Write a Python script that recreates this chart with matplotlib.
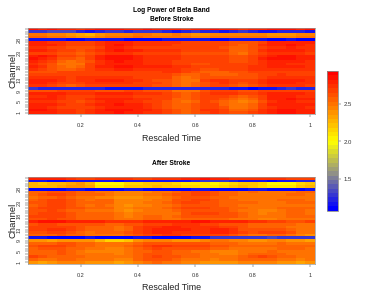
#!/usr/bin/env python3
import numpy as np
import matplotlib
matplotlib.use('Agg')
import matplotlib.pyplot as plt
from matplotlib.colors import LinearSegmentedColormap

plt.rcParams['font.family'] = ['Liberation Sans', 'DejaVu Sans']

W, H = 385, 298

# values x 100, rows run from channel 32 (top) down to channel 1
before_rows = [
    [283,282,283,280,278,276,280,283,284,283,282,280,283,282,280,278,276,280,282,283,280,278,276,278,282,284,284,283,282,283],
    [130,130,132,134,132,122,118,122,126,126,124,126,130,128,124,118,122,126,124,122,118,122,126,124,118,116,122,124,122,118],
    [250,248,246,244,238,232,230,236,242,244,246,250,248,244,246,248,244,240,240,242,244,246,244,242,246,240,238,240,244,246],
    [256,254,252,250,244,238,236,242,248,250,252,254,252,250,250,252,248,244,246,248,250,252,248,248,252,246,244,246,250,252],
    [116,116,114,114,112,112,114,116,116,114,112,110,110,112,114,116,116,114,114,112,112,114,116,116,114,112,112,114,112,110],
    [278,278,276,272,270,268,270,276,280,280,278,274,272,274,274,272,270,268,268,266,268,264,260,262,270,278,280,282,280,278],
    [282,280,278,274,268,266,270,274,282,283,280,276,274,276,274,270,270,270,268,268,266,260,258,262,272,278,282,283,280,276],
    [274,274,270,266,264,260,264,270,278,280,276,270,268,270,270,268,268,266,266,266,262,256,254,260,270,274,276,278,276,272],
    [280,282,274,270,266,262,268,276,282,283,282,278,274,274,272,272,270,268,266,270,266,258,256,262,274,280,282,282,280,276],
    [270,270,266,264,260,256,262,270,274,276,272,270,266,268,268,266,264,262,264,264,260,254,252,260,270,272,274,276,274,270],
    [282,283,278,270,266,264,270,278,283,284,283,280,276,276,274,272,270,270,268,270,268,262,260,266,276,282,283,283,282,278],
    [283,282,274,264,260,258,268,278,284,285,284,280,276,274,274,272,270,268,268,270,268,262,262,268,278,283,284,283,282,280],
    [278,274,266,254,252,254,264,274,282,283,282,278,274,274,272,270,268,266,266,268,266,264,264,270,276,280,282,280,278,276],
    [276,270,260,252,250,252,266,276,280,282,280,278,276,276,274,268,266,264,264,266,266,266,266,270,274,278,278,276,276,274],
    [280,274,260,254,252,256,268,278,282,283,283,282,280,280,278,276,272,270,270,270,270,270,270,272,276,280,280,278,278,276],
    [274,268,260,256,256,260,270,274,276,278,278,276,274,276,276,274,268,266,262,264,268,270,270,272,274,276,276,274,274,274],
    [264,264,264,266,270,270,266,266,266,268,270,270,268,270,272,274,266,260,256,254,258,262,264,266,268,270,270,268,268,270],
    [266,266,266,268,270,268,268,270,270,270,268,268,266,266,270,264,256,258,260,256,254,256,260,264,268,270,272,270,270,268],
    [274,274,274,272,270,272,274,276,276,274,272,270,268,266,266,258,250,254,262,264,262,260,260,264,270,274,276,274,274,272],
    [280,280,278,274,270,272,276,280,280,278,274,272,268,264,264,256,248,252,266,274,274,270,266,270,276,280,282,280,278,276],
    [278,278,274,268,266,268,274,276,276,276,274,270,268,266,264,254,250,254,264,270,274,270,264,266,274,278,278,278,276,274],
    [274,272,266,260,258,260,266,270,270,270,268,268,266,264,262,256,252,258,264,268,268,262,256,260,268,272,274,274,272,270],
    [128,124,125,122,120,122,124,120,116,114,116,118,120,122,120,122,124,124,122,122,120,118,114,112,114,116,122,128,125,120],
    [260,260,264,266,268,270,268,264,260,262,266,268,264,262,260,250,248,252,262,270,270,266,262,260,266,270,268,266,268,266],
    [278,280,282,280,276,274,276,280,282,282,280,276,274,274,268,262,256,260,268,274,276,272,266,268,274,278,280,280,278,276],
    [274,276,278,274,270,268,270,274,276,276,274,270,268,268,266,260,256,262,268,270,268,260,256,260,270,278,282,280,276,274],
    [280,280,280,276,270,268,274,280,282,282,278,274,272,270,266,258,254,260,270,270,264,254,250,256,268,278,282,283,280,278],
    [276,276,274,270,266,264,270,276,280,280,276,272,268,266,262,254,252,258,266,264,256,248,246,252,264,274,278,278,276,274],
    [282,282,278,272,268,268,272,278,282,283,282,278,274,270,264,256,254,260,268,266,256,248,248,254,268,278,282,282,280,278],
    [280,278,274,270,266,266,270,276,280,282,282,278,274,270,264,256,254,260,270,268,260,252,250,258,270,276,280,280,278,276],
    [283,283,280,276,272,270,274,280,283,284,283,282,278,274,268,260,258,264,272,272,266,258,256,262,272,280,284,284,282,280],
    [282,282,280,276,272,270,274,278,282,283,282,280,276,272,268,260,258,264,270,272,268,262,262,266,274,280,283,283,282,280],
]

after_rows = [
    [280,282,282,278,274,270,270,272,274,274,272,270,270,272,274,276,278,282,283,282,278,274,272,272,274,274,272,270,268,270],
    [116,114,113,113,114,116,118,116,114,113,114,116,118,118,116,114,116,120,126,130,128,122,118,116,114,113,114,116,120,122],
    [226,224,226,230,234,236,228,206,203,205,216,218,220,222,220,218,212,210,208,206,210,218,222,220,214,206,204,206,216,224],
    [230,228,230,234,238,240,232,212,208,210,220,222,224,226,224,222,216,214,212,210,214,222,226,224,218,210,208,210,220,228],
    [112,110,110,112,114,114,112,110,110,112,114,114,112,110,110,110,112,114,114,112,110,110,112,114,114,112,110,110,112,114],
    [256,258,262,264,260,256,254,252,250,244,242,244,246,248,252,258,262,266,266,262,256,254,252,254,252,250,250,252,254,254],
    [258,260,266,268,262,258,254,254,252,246,244,246,248,250,254,262,264,268,268,264,258,256,252,252,250,250,252,254,254,252],
    [250,254,258,260,256,252,248,246,246,240,238,240,244,246,250,258,260,262,262,258,254,250,248,248,248,248,250,252,252,250],
    [256,260,266,266,260,256,252,254,254,244,242,244,246,248,252,260,264,266,266,262,256,254,252,250,250,252,254,254,254,252],
    [262,264,268,268,262,256,254,256,254,246,244,246,248,252,256,262,266,266,264,262,258,256,256,254,252,250,252,254,256,254],
    [258,262,266,266,260,256,252,254,252,244,240,244,246,250,252,258,262,264,262,260,256,254,252,250,248,248,250,252,252,252],
    [264,266,270,268,262,260,256,256,254,244,242,248,252,252,254,260,266,268,266,264,260,256,254,250,250,252,254,256,256,254],
    [260,262,266,264,258,254,252,252,252,242,238,244,248,248,248,254,262,264,262,262,260,256,252,248,244,246,252,254,254,252],
    [262,266,270,266,262,258,256,256,254,248,246,250,250,248,248,252,260,266,266,266,264,260,254,250,246,248,252,254,254,252],
    [266,268,270,268,262,258,258,258,256,248,246,250,254,254,252,254,260,264,264,262,262,260,256,252,250,250,252,256,258,256],
    [262,264,266,264,260,256,256,256,254,250,250,252,254,254,250,252,256,258,258,256,254,252,252,248,246,246,248,250,252,252],
    [282,283,284,283,282,280,278,278,276,274,274,276,280,282,280,280,282,283,283,282,282,280,278,276,272,270,268,264,264,266],
    [264,266,266,264,262,260,260,260,258,258,260,264,268,270,270,272,272,272,270,268,264,262,260,258,256,256,256,254,252,252],
    [268,270,270,270,266,262,258,258,258,252,258,268,272,276,278,278,276,274,272,272,270,266,262,258,256,256,254,252,250,248],
    [266,270,272,272,268,262,258,256,254,250,258,268,274,278,280,280,278,276,276,278,278,272,262,260,260,262,264,258,250,248],
    [262,264,266,266,262,256,252,254,256,258,264,270,274,278,278,276,274,272,274,278,280,276,266,264,266,268,266,260,252,250],
    [256,256,258,260,258,254,252,250,250,252,256,264,268,270,272,272,270,268,270,270,268,262,254,252,252,254,254,252,246,240],
    [116,114,112,112,112,112,114,112,112,112,112,114,114,112,112,112,112,114,118,126,130,130,128,126,130,132,130,128,126,126],
    [238,236,234,236,240,240,236,226,218,216,222,236,244,246,244,240,238,240,244,248,250,246,242,240,240,242,244,240,236,234],
    [258,258,258,260,260,258,254,250,248,248,252,258,262,264,264,262,262,262,260,258,256,254,250,250,250,252,254,252,250,250],
    [264,266,268,268,264,258,254,252,250,250,254,264,270,272,272,270,270,268,266,264,262,258,256,254,254,256,258,258,256,256],
    [258,260,264,264,258,254,250,248,246,244,250,258,264,266,264,262,262,262,260,256,254,250,248,248,250,252,254,254,254,252],
    [254,254,258,260,258,252,246,244,244,242,248,254,258,262,260,256,254,252,250,246,242,244,248,250,252,254,252,250,250,248],
    [256,254,256,260,258,250,248,248,248,244,248,256,262,264,262,258,256,254,252,248,244,246,252,254,258,258,254,252,252,252],
    [266,260,258,258,258,254,252,252,252,248,250,258,264,266,264,260,258,254,252,248,248,252,256,262,266,264,258,254,252,252],
    [258,252,252,256,256,252,250,250,248,244,246,254,260,262,260,256,252,250,248,246,248,252,254,258,258,256,252,248,246,248],
    [236,232,240,244,246,244,240,240,238,234,236,246,252,254,252,250,246,242,238,236,236,240,244,246,246,244,240,236,234,236],
]

channels = np.arange(1, 33)
time = np.arange(1, 31) / 30
y_labelled = [1, 5, 9, 13, 18, 23, 28]
x_ticks = [0.2, 0.4, 0.6, 0.8, 1]
x_labels = ['0.2', '0.4', '0.6', '0.8', '1']
bar_ticks = [1.5, 2.0, 2.5]
vmin, vmax = 1.08, 2.94

before = np.array(before_rows)[::-1] / 100
after = np.array(after_rows)[::-1] / 100

cmap = LinearSegmentedColormap.from_list(
    'blue_gray_yellow_red',
    [(0.0, '#0000ff'), (0.25, '#8c8c8c'), (0.495, '#ffff00'), (1.0, '#ff0000')],
    N=32)


def px_axes(x0, y0, x1, y1):
    # pixel box, y measured from the top of the image
    return fig.add_axes([x0 / W, 1 - y1 / H, (x1 - x0) / W, (y1 - y0) / H])


def heat_panel(ax, data):
    mesh = ax.pcolormesh(time, channels, data, shading='nearest', cmap=cmap,
                         vmin=vmin, vmax=vmax, antialiased=True, linewidth=0)
    ax.set_xlim(1 / 60, 1 + 1 / 60)
    ax.set_ylim(0.5, 32.5)
    ax.set_xticks(x_ticks, x_labels, fontsize=4, color='#333333')
    ax.set_yticks(channels, [str(c) if c in y_labelled else '' for c in channels],
                  fontsize=4, rotation=90, va='center', color='#333333')
    ax.tick_params(length=2.2, width=0.35, pad=2.5, color='#444444')
    ax.tick_params(axis='x', pad=4.5)
    for s in ax.spines.values():
        s.set_linewidth(0.5)
        s.set_color('#999999')
    ax.set_xlabel('Rescaled Time', fontsize=6.4, color='#222222', labelpad=3.8)
    ax.set_ylabel('Channel', fontsize=6.8, color='#222222', labelpad=-0.5)
    return mesh


fig = plt.figure(figsize=(W / 100, H / 100), dpi=100)

ax_top = px_axes(28, 27.5, 315, 114)
mesh = heat_panel(ax_top, before)
ax_top.set_title('Log Power of Beta Band\nBefore Stroke', fontsize=4.8, fontweight='bold',
                 linespacing=1.3, pad=5)

ax_bot = px_axes(28, 177, 315, 263.5)
heat_panel(ax_bot, after)
ax_bot.set_title('After Stroke', fontsize=4.8, fontweight='bold', pad=8.5)

cax = px_axes(327, 71, 338, 210.5)
cb = fig.colorbar(mesh, cax=cax, ticks=bar_ticks)
cb.ax.set_yticklabels(['1.5', '2.0', '2.5'], fontsize=4.3, color='#333333')
cb.ax.tick_params(length=2, width=0.35, pad=2, color='#444444')
cb.outline.set_linewidth(0.6)
cb.outline.set_edgecolor('#8c8c8c')

plt.savefig('out.png', dpi=100)
